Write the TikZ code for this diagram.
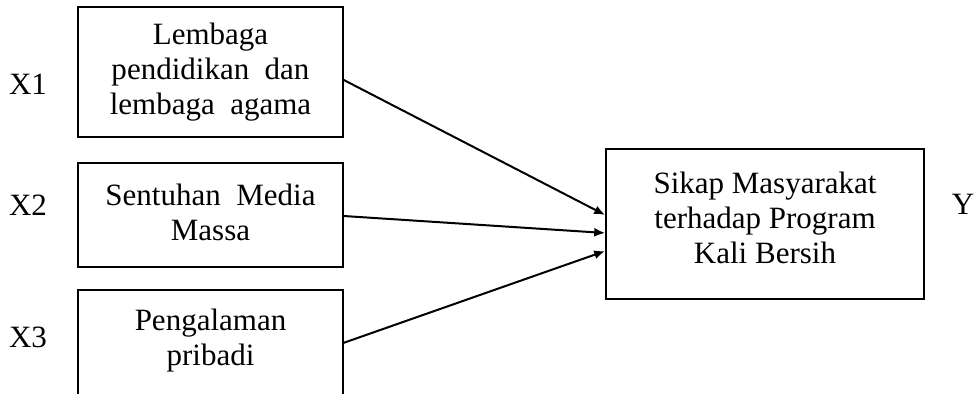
\documentclass[tikz,border=0pt]{standalone}
\usepackage{fontspec}
\setmainfont{Liberation Serif}
\usetikzlibrary{arrows.meta}
\begin{document}
\begin{tikzpicture}[x=1pt,y=-1pt,
  txt/.style={align=center,inner sep=0pt,font=\fontsize{31}{35}\selectfont},
  box/.style={draw,line width=1.6pt,inner sep=0pt},
  lbl/.style={font=\fontsize{31}{35}\selectfont,inner sep=0pt},
  conn/.style={line width=2pt,-{Latex[length=11pt,width=9pt]}}]
\useasboundingbox (0,0) rectangle (976,394);
\node[box,minimum width=265pt,minimum height=130pt] (b1) at (210.5,72) {};
\node[txt] (t1) at (210.5,72) {Lembaga\\pendidikan\ \ dan\\lembaga\ \ agama};
\node[box,minimum width=265pt,minimum height=104pt] (b2) at (210.5,215) {};
\node[txt] (t2) at (210.5,212) {Sentuhan\ \ Media\\Massa};
\node[minimum width=265pt,minimum height=104pt,inner sep=0pt] (b3) at (210.5,342) {};
\node[txt] (t3) at (210.5,341) {Pengalaman\\pribadi};
\draw[line width=1.6pt] (b3.south west) -- (b3.north west) -- (b3.north east) -- (b3.south east);
\node[box,minimum width=318pt,minimum height=150pt] (rb) at (765,224) {};
\node[txt] (tr) at (765,218) {Sikap Masyarakat\\terhadap Program\\Kali Bersih};
\node[lbl] (x1) at (28,84) {X1};
\node[lbl] (x2) at (28,205) {X2};
\node[lbl] (x3) at (28,337) {X3};
\node[lbl] (y) at (963,204) {Y};
\draw[conn] (b1.east |- 0,80) -- (rb.west |- 0,215);
\draw[conn] (b2.east |- 0,216) -- (rb.west |- 0,233);
\draw[conn] (b3.east |- 0,343) -- (rb.west |- 0,251);
\end{tikzpicture}
\end{document}
